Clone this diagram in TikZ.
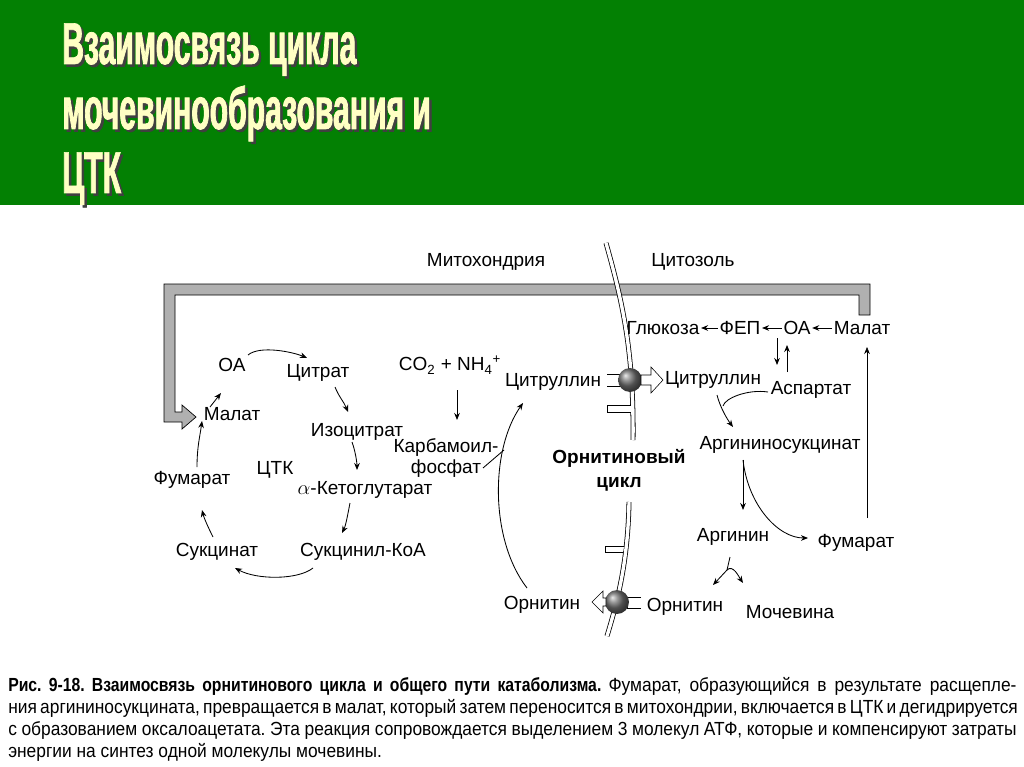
\documentclass[tikz,border=0pt]{standalone}
\usepackage{fontspec}
\setmainfont{Liberation Sans}
\newfontfamily\hdrfont[FakeStretch=0.51,FakeBold=1.2]{Liberation Sans}
\newfontfamily\capfont[UprightFeatures={FakeStretch=0.915},BoldFeatures={FakeStretch=0.83}]{Liberation Sans}
\usetikzlibrary{arrows.meta,calc}
\definecolor{hdrgreen}{RGB}{3,128,3}
\definecolor{hdryellow}{RGB}{255,255,196}
\tikzset{
  lbl/.style={inner sep=1pt,font=\fontsize{13.5}{15}\selectfont},
  arr/.style={-{Stealth[length=5pt,width=4pt]},line width=0.6pt},
  hdr/.style={anchor=base west,inner sep=0pt,font=\hdrfont\bfseries\fontsize{42}{46}\selectfont},
  capline/.style={anchor=base west,inner sep=0pt,font=\capfont\frenchspacing\fontsize{13.5}{15}\selectfont},
  memb/.style={double=white,double distance=2.4pt,line width=0.55pt},
  tport/.style={circle,shading=ball,ball color=black!55,minimum size=17pt,inner sep=0pt}
}
\begin{document}
\begin{tikzpicture}[x=0.025cm,y=-0.025cm] % pixel grid 1024 x 767
  \useasboundingbox (0,0) rectangle (1024,767);
  \fill[white] (0,0) rectangle (1024,767);
  \fill[hdrgreen] (0,0) rectangle (1024,205);
  \foreach \yy/\txt [count=\i] in {64/Взаимосвязь цикла,129/мочевинообразования и,193/ЦТК} {
    \node[hdr,text=black!75] (shadow\i) at (64.5,\yy+2.5) {\txt};
    \node[hdr,text=hdryellow] (title\i) at (62,\yy) {\txt};
  }
  % transport of malate
  \draw[fill=gray!62,line width=0.5pt] (870,315) -- (870,284) -- (164,284) -- (164,422)
     -- (182,422) -- (182,429) -- (196,417) -- (182,405) -- (182,412) -- (175,412)
     -- (175,295) -- (859,295) -- (859,315) -- cycle;
  % membrane
  \draw[memb] (606,243) .. controls (622,300) and (634,350) .. (633,440);
  \draw[memb] (629,502) .. controls (628,560) and (618,600) .. (607,636);
  \draw[fill=white] (631,405) -- (607,405) -- (607,412) -- (631,412);
  \draw[fill=white] (624,546) -- (605,546) -- (605,552) -- (623,552);
  \draw[fill=white] (607,374) -- (621,374) -- (621,386) -- (607,386);
  \draw[fill=white] (641,597) -- (627,597) -- (627,608) -- (641,608);
  \node[tport] (tr1) at (630,380) {};
  \node[tport] (tr2) at (617,602) {};
  \draw[fill=white] (641,375) -- (651,375) -- (651,367) -- (663,380) -- (651,393) -- (651,385) -- (641,385) -- cycle;
  \draw[fill=white] (606,598) -- (603,598) -- (603,591) -- (592,602) -- (603,613) -- (603,606) -- (606,606) -- cycle;

  \node[lbl] (mito) at (486,262) {Митохондрия};
  \node[lbl] (cyto) at (693,262) {Цитозоль};
  % TCA cycle
  \node[lbl] (oa) at (232,365) {ОА};
  \node[lbl] (citr) at (318,373) {Цитрат};
  \node[lbl] (mal) at (232,414) {Малат};
  \node[lbl] (isocit) at (357,432) {Изоцитрат};
  \node[lbl] (tca) at (275,470) {ЦТК};
  \node[lbl] (fum) at (192,480) {Фумарат};
  \node[lbl] (akg) at (365,490) {$\alpha$-Кетоглутарат};
  \node[lbl] (succ) at (217,552) {Сукцинат};
  \node[lbl] (succoa) at (363,552) {Сукцинил-КоА};
  \draw[arr] ($(oa)+(16,-10)$) .. controls +(12,-10) and +(-14,-6) .. ($(citr)+(-11,-15)$);
  \draw[arr] ($(citr)+(17,14)$) .. controls +(4,10) and +(-4,-10) .. ($(isocit)+(-9,-20)$);
  \draw[arr] ($(isocit)+(-5,10)$) .. controls +(3,8) and +(0,-8) .. ($(akg)+(-8,-20)$);
  \draw[arr] ($(akg)+(-15,13)$) .. controls +(-2,10) and +(4,-8) .. ($(succoa)+(-21,-19)$);
  \draw[arr] ($(succoa)+(-50,16)$) .. controls +(-15,12) and +(22,12) .. ($(succ)+(18,16)$);
  \draw[arr] ($(succ)+(-4,-15)$) .. controls +(-5,-10) and +(2,8) .. ($(fum)+(10,30)$);
  \draw[arr] ($(fum)+(5,-13)$) .. controls +(0,-20) and +(-2,15) .. ($(mal)+(-30,7)$);
  \draw[arr] ($(mal)+(-22,-7)$) -- ($(oa)+(-11,28)$);
  % carbamoyl phosphate
  \node[lbl] (co2) at (450,365) {CO\textsubscript{2} + NH\textsubscript{4}\textsuperscript{+}};
  \node[lbl,align=center] (cp) at (446,458) {Карбамоил-\\фосфат};
  \node[lbl] (citin) at (553,382) {Цитруллин};
  \node[lbl] (ornin) at (542,605) {Орнитин};
  \node[lbl,font=\bfseries\fontsize{13.5}{17}\selectfont,align=center] (ocycle) at (619,470) {Орнитиновый\\цикл};
  \draw[arr] ($(co2)+(7,25)$) -- ($(cp)+(11,-38)$);
  \draw[arr] ($(ornin)+(-15,-17)$) .. controls +(-37,-48) and +(-33,47) .. ($(citin)+(-30,21)$);
  \coordinate (cpjoin) at (504,450);
  \draw[line width=0.6pt] ($(cp)+(37,10)$) -- (cpjoin);
  % cytosol
  \node[lbl] (glu) at (663,328) {Глюкоза};
  \node[lbl] (fep) at (740,328) {ФЕП};
  \node[lbl] (oa2) at (797,328) {ОА};
  \node[lbl] (mal2) at (862,328) {Малат};
  \node[lbl] (citout) at (713,380) {Цитруллин};
  \node[lbl] (asp) at (811,390) {Аспартат};
  \node[lbl] (argsuc) at (780,445) {Аргининосукцинат};
  \node[lbl] (arg) at (733,537) {Аргинин};
  \node[lbl] (fum2) at (856,543) {Фумарат};
  \node[lbl] (ornout) at (685,607) {Орнитин};
  \node[lbl] (urea) at (790,612) {Мочевина};
  \draw[arr] (fep) -- (glu);
  \draw[arr] (oa2) -- (fep);
  \draw[arr] (mal2) -- (oa2);
  \draw[arr] ($(oa2)+(-20,10)$) -- ($(asp)+(-34,-25)$);
  \draw[arr] ($(asp)+(-24,-18)$) -- ($(oa2)+(-10,17)$);
  \draw[arr] ($(citout)+(4,15)$) .. controls +(3,12) and +(-6,-8) .. ($(argsuc)+(-47,-18)$);
  \coordinate (aspjoin) at (723,406);
  \draw[line width=0.6pt] ($(asp)+(-43,2)$) .. controls +(-20,-3) and +(2,-8) .. (aspjoin);
  \draw[arr] ($(argsuc)+(-37,15)$) -- ($(arg)+(10,-27)$);
  \draw[arr] ($(argsuc)+(-37,15)$) .. controls +(5,45) and +(-30,0) .. ($(fum2)+(-48,-5)$);
  \draw[arr,line width=0.4pt] ($(fum2)+(11,-25)$) -- ($(mal2)+(5,19)$);
  \coordinate (fork) at (727,570);
  \draw[line width=0.6pt] ($(arg)+(-3,20)$) -- (fork);
  \draw[arr] (fork) -- ($(ornout)+(28,-22)$);
  \draw[arr] (fork) .. controls +(6,-6) and +(-4,-6) .. ($(urea)+(-47,-29)$);
  % caption
  \node[capline] (cap1) at (8,691) {\makebox[25.2cm][s]{\bfseries Рис. 9-18. Взаимосвязь орнитинового цикла и общего пути катаболизма. \mdseries Фумарат, образующийся в результате расщепле-}};
  \node[capline] (cap2) at (8,713) {\makebox[25.2cm][s]{ния аргининосукцината, превращается в малат, который затем переносится в митохондрии, включается в ЦТК и дегидрируется}};
  \node[capline] (cap3) at (8,735) {\makebox[25.2cm][s]{с образованием оксалоацетата. Эта реакция сопровождается выделением 3 молекул АТФ, которые и компенсируют затраты}};
  \node[capline] (cap4) at (8,757) {энергии на синтез одной молекулы мочевины.};
\end{tikzpicture}
\end{document}
